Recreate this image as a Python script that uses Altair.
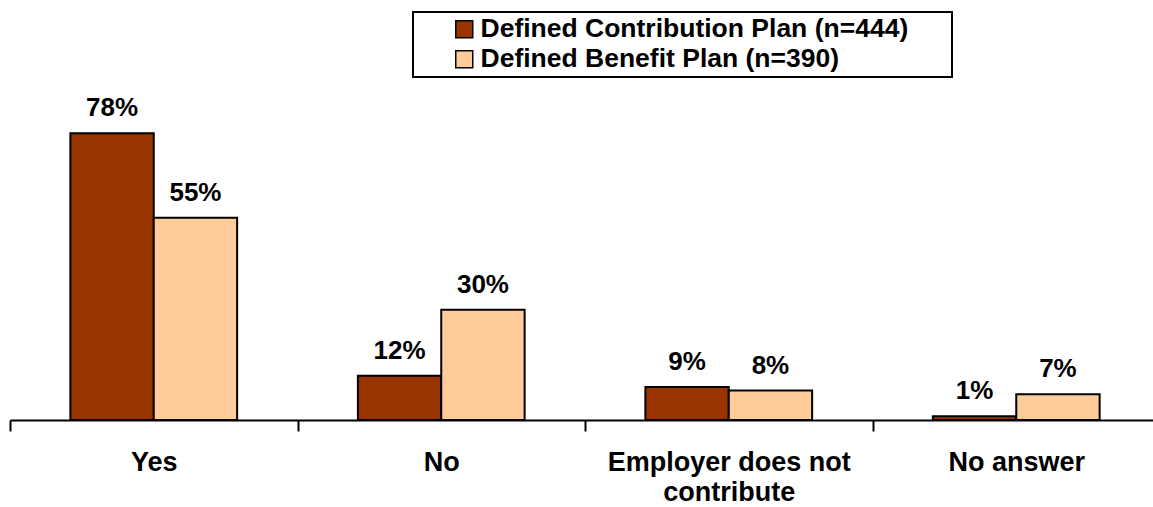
import altair as alt
import pandas as pd

categories = ["Yes", "No", "Employer does not contribute", "No answer"]
series = ["Defined Contribution Plan (n=444)", "Defined Benefit Plan (n=390)"]
dc_values = [78, 12, 9, 1]
db_values = [55, 30, 8, 7]
colors = ["#993300", "#FFCC99"]

rows = []
for c, a, b in zip(categories, dc_values, db_values):
    rows.append({"cat": c, "series": series[0], "value": a, "label": f"{a}%"})
    rows.append({"cat": c, "series": series[1], "value": b, "label": f"{b}%"})
df = pd.DataFrame(rows)

W = 1143
RANGE = 1150
H = 331
step = RANGE / 4.0
pin = 0.42

x_enc = alt.X(
    "cat:N",
    sort=categories,
    scale=alt.Scale(paddingInner=pin, paddingOuter=pin / 2, range=[0, RANGE]),
    axis=alt.Axis(
        title=None,
        labelAngle=0,
        labelFont="Liberation Sans",
        labelFontWeight="bold",
        labelFontSize=27,
        labelColor="black",
        labelLineHeight=30,
        labelPadding=18,
        labelLimit=400,
        labelExpr="datum.label == 'Employer does not contribute' ? ['Employer does not', 'contribute'] : datum.label",
        bandPosition=0,
        tickOffset=-pin * step / 2,
        labelOffset=pin * step / 2,
        tickSize=11,
        tickWidth=2,
        tickColor="black",
        domainColor="black",
        domainWidth=2,
    ),
)
xoff = alt.XOffset("series:N", sort=series, scale=alt.Scale(paddingInner=0, paddingOuter=0))
y_enc = alt.Y("value:Q", scale=alt.Scale(domain=[0, 90]), axis=None)

bars = alt.Chart(df).mark_bar(stroke="black", strokeWidth=2).encode(
    x=x_enc,
    xOffset=xoff,
    y=y_enc,
    color=alt.Color(
        "series:N",
        sort=series,
        scale=alt.Scale(domain=series, range=colors),
        legend=alt.Legend(
            title="\u00a0",
            titleOrient="right",
            titleFontSize=10,
            titlePadding=40,
            orient="none",
            legendX=403,
            legendY=-77,
            symbolType="square",
            symbolSize=289,
            symbolStrokeColor="black",
            symbolStrokeWidth=1.5,
            symbolOffset=34,
            labelFont="Liberation Sans",
            labelFontWeight="bold",
            labelFontSize=26.5,
            labelColor="black",
            labelLimit=700,
            labelOffset=3,
            rowPadding=3,
            padding=4,
            strokeColor="black",
            fillColor="white",
        ),
    ),
)

texts = alt.Chart(df).mark_text(
    font="Liberation Sans",
    fontWeight="bold",
    fontSize=26,
    baseline="alphabetic",
    dy=-17,
    color="black",
).encode(
    x=alt.X("cat:N", sort=categories),
    xOffset=xoff,
    y=y_enc,
    text="label:N",
)

chart = (
    alt.layer(bars, texts)
    .properties(
        width=W,
        height=H,
        background="white",
        autosize=alt.AutoSizeParams(type="none"),
        padding={"left": 10, "top": 89, "right": 0, "bottom": 87},
    )
    .configure_view(stroke=None)
    .configure_legend(strokeWidth=2)
)

chart.save("out.html", embed_options={"renderer": "svg", "actions": False})
